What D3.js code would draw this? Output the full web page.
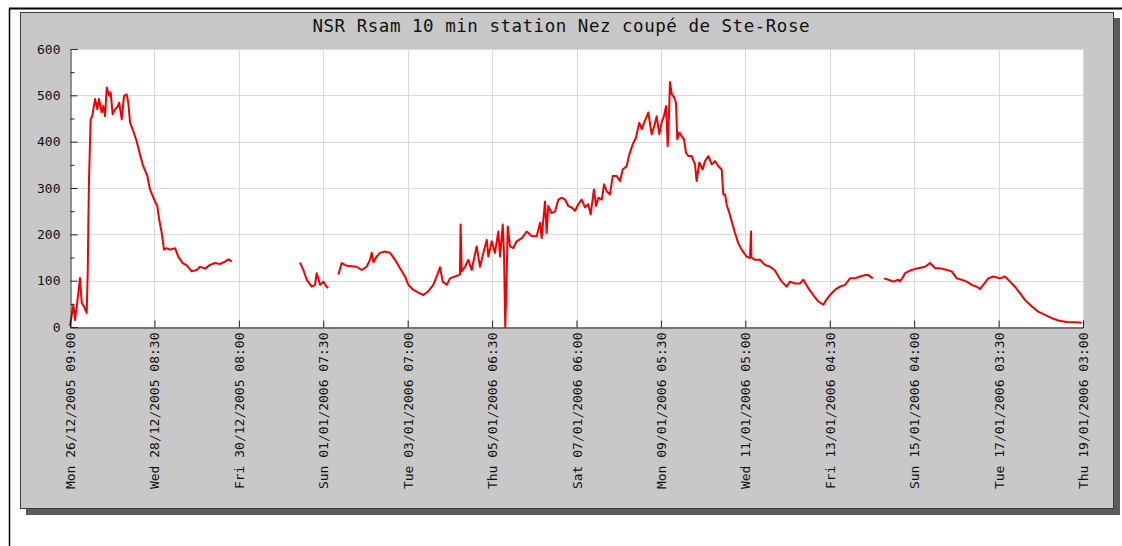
<!DOCTYPE html>
<html>
<head>
<meta charset="utf-8">
<script src="https://cdn.jsdelivr.net/npm/d3@7"></script>
<style>
  html, body { margin: 0; padding: 0; background: #ffffff; }
  svg { display: block; }
</style>
</head>
<body>
<svg id="chart" width="1122" height="546"></svg>
<script>
// ---- data ----
const chartTitle = "NSR Rsam 10 min station Nez coupé de Ste-Rose";
const startTime = Date.UTC(2005, 11, 26, 9, 0);   // Mon 26/12/2005 09:00
const endTime = Date.UTC(2006, 0, 19, 3, 0);      // Thu 19/01/2006 03:00
const tickStepHours = 47.5;
const yTickValues = [0, 100, 200, 300, 400, 500, 600];
const yMinorValues = [50, 150, 250, 350, 450, 550];

// hours after start, null marks a gap in the record
const hours = [
  0, 1.9, 2.8, 4.7, 5.6, 6.6, 7.9, 9.4, 10.0, 10.3, 10.7, 11.6, 12.5, 14.1, 15.4, 16.3,
  17.8, 18.7, 19.7, 20.7, 22.1, 22.9, 24.0, 25.3, 26.6, 27.7, 29.1, 30.4, 31.9, 32.8,
  33.8, 35.6, 37.5, 39.4, 41.2, 43.5, 45.0, 46.9, 49.1, 50.2, 51.6, 52.9, 54.4, 56.3,
  59.1, 60.9, 63.4, 65.7, 68.5, 71.3, 73.1, 76.0, 78.8, 81.6, 84.4, 87.2, 89.1, 91.0,
  null,
  129.4, 131.3, 133.2, 136.0, 137.9, 138.8, 139.7, 140.7, 142.5, 144.4, 145.3,
  null,
  151.0, 152.9, 155.7, 158.5, 161.3, 164.1, 166.9, 168.8, 169.8, 170.7, 172.6, 174.4,
  177.2, 180.1, 182.9, 185.7, 188.5, 190.4, 193.2, 196.0, 198.8, 201.6, 204.4, 206.3,
  208.2, 209.7, 212.0, 213.8, 216.6, 219.4, 219.8, 220.4, 222.3, 224.1, 226.0, 228.8,
  230.7, 232.6, 234.5, 235.4, 237.3, 239.1, 241.0, 242.0, 243.5, 244.2, 244.9, 245.7,
  246.3, 247.6, 249.4, 251.3, 254.2, 257.0, 259.8, 262.6, 264.5, 265.4, 267.3, 268.2,
  269.1, 271.0, 272.9, 274.8, 276.7, 278.5, 280.4, 282.3, 284.2, 286.0, 287.9, 289.8,
  291.6, 293.0, 294.8, 296.0, 297.3, 299.2, 300.5, 302.0, 303.8, 305.4, 307.6, 309.5,
  311.0, 313.2, 314.7, 316.6, 318.5, 320.3, 321.7, 323.5, 325.4, 327.3, 328.8, 330.1,
  331.6, 332.9, 334.2, 335.4, 336.3, 336.9, 337.6, 338.6, 339.9, 341.0, 341.7, 342.9,
  344.2, 345.5, 346.6, 347.9, 349.8, 351.7, 352.6, 354.1, 356.0, 357.3, 359.2, 361.1,
  362.9, 364.8, 366.7, 367.6, 368.6, 369.5, 371.0, 372.3, 374.2, 376.0, 377.9, 380.7,
  382.6, 383.2, 383.4, 385.4, 388.2, 391.0, 393.9, 396.7, 398.6, 400.5, 403.3, 405.1,
  408.0, 410.8, 412.6, 415.4, 418.2, 421.1, 423.9, 425.4, 427.6, 430.4, 433.2, 436.1,
  438.9, 441.7, 444.5, 447.3, 449.2, 451.7,
  null,
  458.0, 460.5, 463.3, 466.1, 467.0, 468.9, 469.8, 471.7, 473.6, 477.3, 481.1, 483.9,
  486.7, 489.5, 493.3, 496.1, 498.9, 501.7, 504.6, 507.4, 510.2, 512.0, 513.9, 516.7,
  519.5, 523.3, 526.1, 528.9, 531.7, 534.5, 537.4, 541.1, 544.8, 548.6, 552.4, 556.1,
  560.8, 565.5, 569.3
];

const rsam = [
  2, 48, 15, 73, 106, 52, 44, 30, 123, 217, 318, 448, 455, 492, 470, 492,
  463, 477, 455, 517, 499, 506, 459, 470, 474, 484, 448, 499, 502, 484,
  441, 423, 401, 372, 347, 326, 297, 279, 261, 232, 203, 167, 170, 167,
  170, 152, 138, 133, 120, 123, 130, 126, 134, 138, 136, 141, 146, 141,
  null,
  139, 123, 102, 87, 91, 116, 105, 91, 98, 87, 84,
  null,
  113, 138, 132, 131, 130, 123, 130, 145, 160, 140, 152, 160,
  163, 160, 145, 127, 109, 91, 80, 74, 69, 77, 91, 109,
  129, 98, 91, 105, 109, 113, 221, 120, 130, 145, 123, 174,
  130, 160, 188, 152, 185, 160, 206, 152, 221, 160, 0, 109,
  217, 174, 170, 185, 192, 206, 196, 196, 225, 192, 271, 203,
  261, 246, 249, 275, 279, 275, 261, 258, 251, 265, 275, 258,
  265, 243, 297, 261, 279, 275, 308, 293, 286, 326, 326, 315,
  340, 347, 372, 394, 409, 441, 427, 445, 463, 416, 434, 455,
  416, 441, 455, 477, 390, 441, 529, 502, 496, 484, 405, 420,
  412, 405, 376, 369, 369, 351, 315, 355, 340, 358, 369, 351,
  358, 347, 340, 286, 286, 264, 246, 228, 203, 181, 167, 152,
  149, 206, 150, 145, 145, 134, 130, 122, 109, 98, 87, 98,
  94, 94, 102, 84, 69, 55, 48, 58, 69, 80, 87, 91,
  105, 105, 109, 112, 112, 105,
  null,
  105, 102, 98, 102, 98, 109, 116, 120, 123, 127, 130, 138,
  127, 127, 123, 120, 105, 102, 98, 91, 87, 82, 91, 105,
  109, 105, 109, 98, 87, 73, 58, 45, 33, 26, 19, 14,
  11, 10, 9
];

// ---- drawing ----
const svg = d3.select("#chart");
const mono = "'DejaVu Sans Mono', 'Liberation Mono', monospace";
const plot = { left: 70, right: 1083, top: 49, bottom: 327 };

// outer frame lines
svg.append("line").attr("x1", 9).attr("x2", 1122).attr("y1", 8.5).attr("y2", 8.5)
  .attr("stroke", "#000").attr("stroke-width", 2);
svg.append("line").attr("x1", 9.5).attr("x2", 9.5).attr("y1", 8).attr("y2", 546)
  .attr("stroke", "#000").attr("stroke-width", 1.5);

// shadow + panel
svg.append("rect").attr("x", 26).attr("y", 18).attr("width", 1094).attr("height", 497)
  .attr("fill", "#5c5c5c");
svg.append("rect").attr("x", 20.5).attr("y", 12.5).attr("width", 1093).attr("height", 496)
  .attr("fill", "#c8c8c8").attr("stroke", "#3a3a3a").attr("stroke-width", 1);

// plot background
svg.append("rect").attr("x", plot.left).attr("y", plot.top)
  .attr("width", plot.right - plot.left).attr("height", plot.bottom - plot.top)
  .attr("fill", "#ffffff");

const x = d3.scaleUtc()
  .domain([new Date(startTime), new Date(endTime)])
  .range([plot.left, plot.right]);
const y = d3.scaleLinear().domain([0, 600]).range([plot.bottom, plot.top]);

const xTicks = d3.range(0, 12.5).map(i => new Date(startTime + i * tickStepHours * 3600e3));
const fmt = d3.utcFormat("%a %d/%m/%Y %H:%M");

// grid
const grid = svg.append("g").attr("stroke", "#d9d9d9").attr("stroke-width", 1);
yTickValues.filter(v => v > 0).forEach(v => {
  grid.append("line").attr("x1", plot.left).attr("x2", plot.right)
    .attr("y1", Math.round(y(v)) + 0.5).attr("y2", Math.round(y(v)) + 0.5);
});
xTicks.slice(1).forEach(t => {
  grid.append("line").attr("x1", Math.round(x(t)) + 0.5).attr("x2", Math.round(x(t)) + 0.5)
    .attr("y1", plot.top).attr("y2", plot.bottom);
});

// data line
const pts = hours.map((h, i) => (h === null ? null : { t: new Date(startTime + h * 3600e3), v: rsam[i] }));
const line = d3.line()
  .defined(d => d !== null)
  .x(d => x(d.t))
  .y(d => y(d.v));
svg.append("path").datum(pts)
  .attr("d", line)
  .attr("fill", "none")
  .attr("stroke", "#f00000")
  .attr("stroke-width", 2)
  .attr("stroke-linejoin", "round");

// y axis
const yAxis = d3.axisLeft(y).tickValues(yTickValues).tickSize(-7).tickPadding(10)
  .tickFormat(d3.format("d"));
const gy = svg.append("g").attr("transform", `translate(${plot.left + 0.5},0)`).call(yAxis);
gy.select(".domain").attr("stroke", "#222");
gy.selectAll(".tick line").attr("stroke", "#222");
gy.selectAll("text").attr("font-family", mono).attr("font-size", 13).attr("fill", "#111");
const yMinor = d3.axisLeft(y).tickValues(yMinorValues).tickSize(-4).tickFormat("");
const gym = svg.append("g").attr("transform", `translate(${plot.left + 0.5},0)`).call(yMinor);
gym.select(".domain").remove();
gym.selectAll(".tick line").attr("stroke", "#222");

// x axis
const xAxis = d3.axisBottom(x).tickValues(xTicks).tickSize(-7).tickFormat(fmt);
const gx = svg.append("g").attr("transform", `translate(0,${plot.bottom + 0.5})`).call(xAxis);
gx.select(".domain").attr("stroke", "#222");
gx.selectAll(".tick line").attr("stroke", "#222");
gx.selectAll("text")
  .attr("font-family", mono).attr("font-size", 13).attr("fill", "#111")
  .attr("text-anchor", "end")
  .attr("transform", "rotate(-90)")
  .attr("x", -5).attr("y", 0).attr("dy", "0.35em");

// title
svg.append("text")
  .attr("x", 561).attr("y", 32)
  .attr("text-anchor", "middle")
  .attr("font-family", mono).attr("font-size", 17.5).attr("fill", "#111")
  .attr("textLength", 497).attr("lengthAdjust", "spacing")
  .text(chartTitle);
</script>
</body>
</html>
